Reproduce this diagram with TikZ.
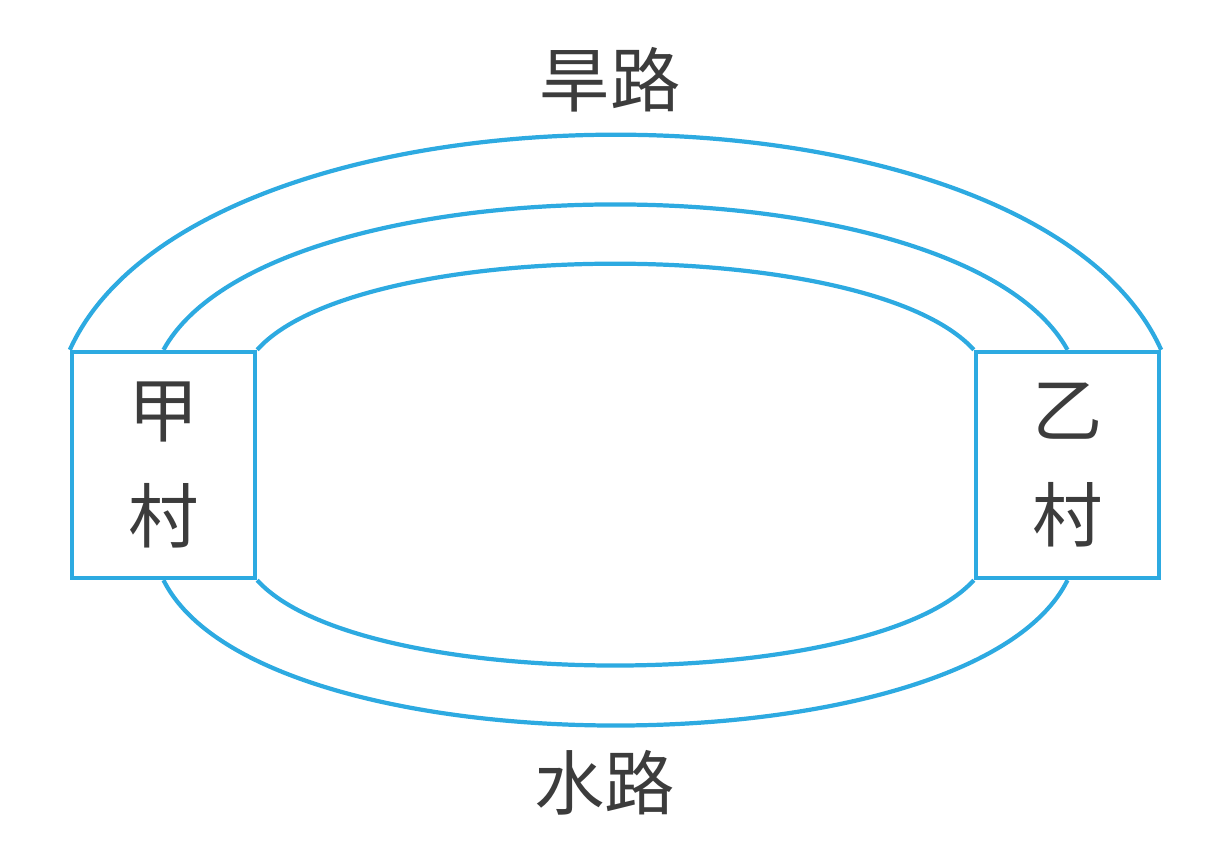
\documentclass[tikz,border=0pt]{standalone}
\usepackage{fontspec}
\newfontfamily\cjk{Noto Sans CJK SC}
\definecolor{roadblue}{RGB}{45,170,225}
\definecolor{textgray}{RGB}{60,60,60}

\begin{document}
\begin{tikzpicture}[x=0.01cm, y=-0.01cm]
    \tikzstyle{village} = [rectangle, draw=roadblue, line width=1.2pt, minimum width=1.83cm,
        minimum height=2.26cm, align=center, font=\cjk\fontsize{20}{30}\selectfont, text=textgray,
        inner sep=0pt]
    \tikzstyle{road} = [draw=roadblue, line width=1.2pt]
    \tikzstyle{label} = [font=\cjk\fontsize{20}{24}\selectfont, text=textgray]
    \useasboundingbox (0,0) rectangle (1220,865);

    \node [village] (jia) at (163.5,465) {甲\\村};
    \node [village] (yi) at (1067.5,465) {乙\\村};
    \node [label] (han) at (610,80) {旱路};
    \node [label] (shui) at (605,783) {水路};

    % upper roads
    \draw [road] (jia.north west) .. controls (200,63) and (1032,63) .. (yi.north east);
    \draw [road] (jia.north) .. controls (270,156) and (960,156) .. (yi.north);
    \draw [road] (jia.north east) .. controls (360,235) and (870,235) .. (yi.north west);
    % lower roads
    \draw [road] (jia.south) .. controls (260,774) and (972,774) .. (yi.south);
    \draw [road] (jia.south east) .. controls (360,694) and (870,694) .. (yi.south west);
\end{tikzpicture}
\end{document}
